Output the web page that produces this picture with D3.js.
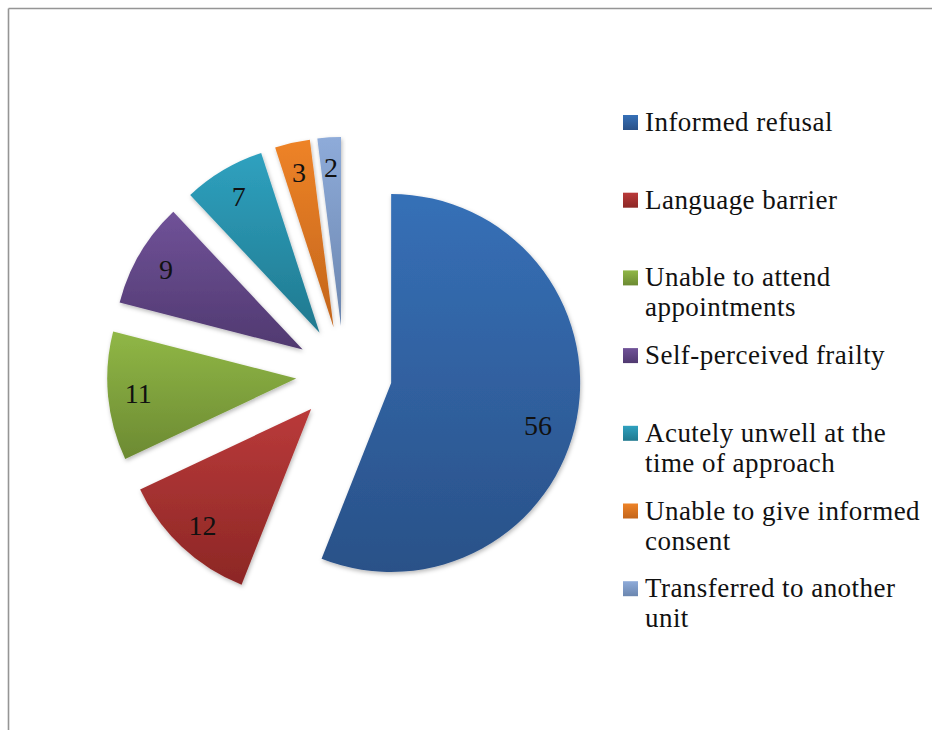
<!DOCTYPE html>
<html>
<head>
<meta charset="utf-8">
<script src="https://cdn.jsdelivr.net/npm/d3@7"></script>
<style>
  html, body { margin: 0; padding: 0; background: #fff; }
  svg { display: block; }
  text { font-family: "Liberation Serif", "Times New Roman", serif; fill: #111; }
</style>
</head>
<body>
<svg id="chart" width="932" height="731"></svg>
<script>
// Reasons for non-participation (counts)
const categories = [
  "Informed refusal",
  "Language barrier",
  "Unable to attend appointments",
  "Self-perceived frailty",
  "Acutely unwell at the time of approach",
  "Unable to give informed consent",
  "Transferred to another unit"
];
const values = [56, 12, 11, 9, 7, 3, 2];
// Legend text broken into lines
const legendLines = [
  ["Informed refusal"],
  ["Language barrier"],
  ["Unable to attend", "appointments"],
  ["Self-perceived frailty"],
  ["Acutely unwell at the", "time of approach"],
  ["Unable to give informed", "consent"],
  ["Transferred to another", "unit"]
];
// Gradient stops per slice: [top, bottom]
const colors = [
  ["#3670b7", "#2a5188"],
  ["#ba3a3a", "#8c2725"],
  ["#90b746", "#6c8a32"],
  ["#705298", "#503970"],
  ["#2fa1bf", "#20798f"],
  ["#ee8327", "#c3651b"],
  ["#8eabd9", "#6b86af"]
];

const svg = d3.select("#chart");
const W = 932, H = 731;

// Frame lines (top and left edges)
svg.append("line").attr("x1", 8.5).attr("y1", 8.5).attr("x2", W).attr("y2", 8.5)
  .attr("stroke", "#959595").attr("stroke-width", 1.6);
svg.append("line").attr("x1", 8.5).attr("y1", 8.5).attr("x2", 8.5).attr("y2", 730)
  .attr("stroke", "#959595").attr("stroke-width", 1.6);

const defs = svg.append("defs");
colors.forEach((c, i) => {
  const g = defs.append("linearGradient").attr("id", "grad" + i)
    .attr("x1", 0).attr("y1", 0).attr("x2", 0).attr("y2", 1);
  g.append("stop").attr("offset", "0%").attr("stop-color", c[0]);
  g.append("stop").attr("offset", "100%").attr("stop-color", c[1]);
});
const f = defs.append("filter").attr("id", "shadow")
  .attr("x", "-20%").attr("y", "-20%").attr("width", "140%").attr("height", "140%");
f.append("feDropShadow").attr("dx", 1).attr("dy", 2).attr("stdDeviation", 2.2)
  .attr("flood-color", "#000").attr("flood-opacity", 0.28);

// Pie geometry
const cx = 344, cy = 374, radius = 189, explode = 48;
const pie = d3.pie().sort(null).value(d => d).startAngle(0).endAngle(2 * Math.PI);
const arcs = pie(values);
const arc = d3.arc().innerRadius(0).outerRadius(radius);
const labelR = radius * 0.84;
const labelArc = d3.arc().innerRadius(labelR).outerRadius(labelR);
const labelNudge = {0: [-9, 12]};

const pieG = svg.append("g").attr("transform", `translate(${cx},${cy})`);
const slices = pieG.selectAll("g.slice").data(arcs).enter().append("g")
  .attr("class", "slice")
  .attr("transform", d => {
    const mid = (d.startAngle + d.endAngle) / 2;
    return `translate(${explode * Math.sin(mid)},${-explode * Math.cos(mid)})`;
  });
slices.append("path")
  .attr("d", arc)
  .attr("fill", (d, i) => `url(#grad${i})`)
  .attr("filter", "url(#shadow)");
slices.append("text")
  .attr("transform", (d, i) => {
    const [x, y] = labelArc.centroid(d);
    const n = labelNudge[i] || [0, 0];
    return `translate(${x + n[0]},${y + n[1]})`;
  })
  .attr("text-anchor", "middle")
  .attr("dy", "0.35em")
  .attr("font-size", 28)
  .text(d => d.data);

// Legend
const legX = 623, legY0 = 115, legStep = 77.7, sq = 15, lineH = 30;
const leg = svg.append("g");
categories.forEach((c, i) => {
  const y = legY0 + i * legStep;
  leg.append("rect").attr("x", legX).attr("y", y).attr("width", sq).attr("height", sq)
    .attr("fill", `url(#grad${i})`);
  const t = leg.append("text").attr("x", legX + 22).attr("y", y + 16)
    .attr("font-size", 27).attr("letter-spacing", 0.45);
  legendLines[i].forEach((ln, j) => {
    t.append("tspan").attr("x", legX + 22).attr("dy", j === 0 ? 0 : lineH).text(ln);
  });
});
</script>
</body>
</html>
